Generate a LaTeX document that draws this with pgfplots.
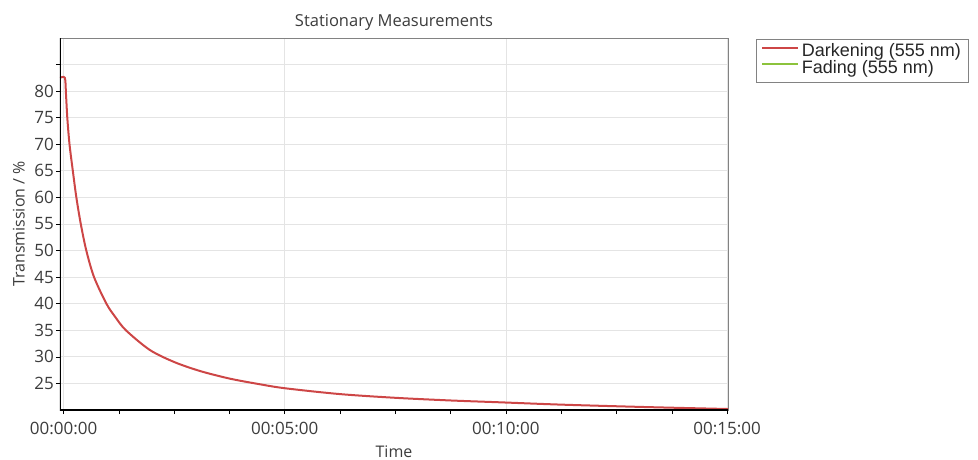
\documentclass[border=0pt]{standalone}
\usepackage{pgfplots}
\pgfplotsset{compat=1.18}
\usepackage{fontspec}
\setmainfont{Open Sans}
\newfontfamily\legfont{Liberation Sans}
\definecolor{txt}{RGB}{60,60,60}
\definecolor{curvered}{RGB}{205,70,70}
\definecolor{fadegreen}{RGB}{140,195,60}
\definecolor{gridc}{RGB}{228,228,228}
\definecolor{framec}{RGB}{130,130,130}
\begin{document}
\begin{tikzpicture}
\path[use as bounding box] (-60pt,-49pt) rectangle (918pt,410pt);
\begin{axis}[
  at={(0pt,0pt)}, anchor=south west,
  scale only axis, width=668pt, height=372pt,
  xmin=-0.08, xmax=15.02, ymin=20, ymax=90,
  axis line style={draw=framec, line width=0.9pt},
  xtick={0,5,10,15},
  xticklabels={00:00:00,00:05:00,00:10:00,00:15:00},
  minor x tick num=3,
  ytick={25,30,...,85},
  yticklabels={25,30,35,40,45,50,55,60,65,70,75,80,{}},
  xtick pos=bottom, ytick pos=left,
  tick align=outside,
  major tick length=4pt, minor tick length=4pt,
  tick style={black, line width=0.6pt},
  xmajorgrids, ymajorgrids,
  major grid style={gridc, line width=0.8pt},
  ticklabel style={font=\fontsize{17}{19}\selectfont, text=txt},
  yticklabel style={inner sep=2pt},
  xticklabel style={inner sep=3pt, yshift=-5pt},
  title={Stationary Measurements},
  title style={font=\fontsize{16.5}{19}\selectfont, text=txt, yshift=-2pt},
  xlabel={Time},
  ylabel={Transmission / \%},
  label style={font=\fontsize{16}{19}\selectfont, text=txt},
  xlabel style={yshift=-4pt},
  ylabel style={yshift=4pt},
  legend style={at={(1,1)}, anchor=north west, xshift=28pt, yshift=-1pt,
    draw=framec, line width=0.8pt, fill=white,
    font=\legfont\fontsize{18}{18}\selectfont, text=black!85,
    inner xsep=5pt, inner ysep=5pt, row sep=0pt,
    nodes={inner ysep=0pt, inner xsep=2.5pt, text height=12.5pt, text depth=4pt}},
  legend cell align=left,
  legend image code/.code={\draw[#1, line width=2pt] (0pt,5pt) -- (36pt,5pt);},
]
\addplot[curvered, line width=2pt, smooth, tension=0.5] coordinates {
(-0.08,82.5) (0.03,82.5) (0.055,79.5) (0.085,75) (0.135,70) (0.21,65)
(0.29,60) (0.39,55) (0.515,50) (0.69,45) (0.97,40) (1.17,37.5)
(1.41,35) (1.95,31.3) (2.51,29.0) (3.1,27.3) (3.76,25.9)
(4.4,24.9) (5.0,24.1) (6.24,23.0) (7.49,22.3) (8.73,21.8) (9.86,21.45)
(11.29,21.0) (13.19,20.55) (14.95,20.2) (15.02,20.2)
};
\addlegendentry{Darkening (555 nm)}
\addlegendimage{fadegreen}
\addlegendentry{Fading (555 nm)}
\draw[black, line width=1.6pt] (rel axis cs:0,1) -- (rel axis cs:0,0) -- (rel axis cs:1,0);
\end{axis}
\end{tikzpicture}
\end{document}
